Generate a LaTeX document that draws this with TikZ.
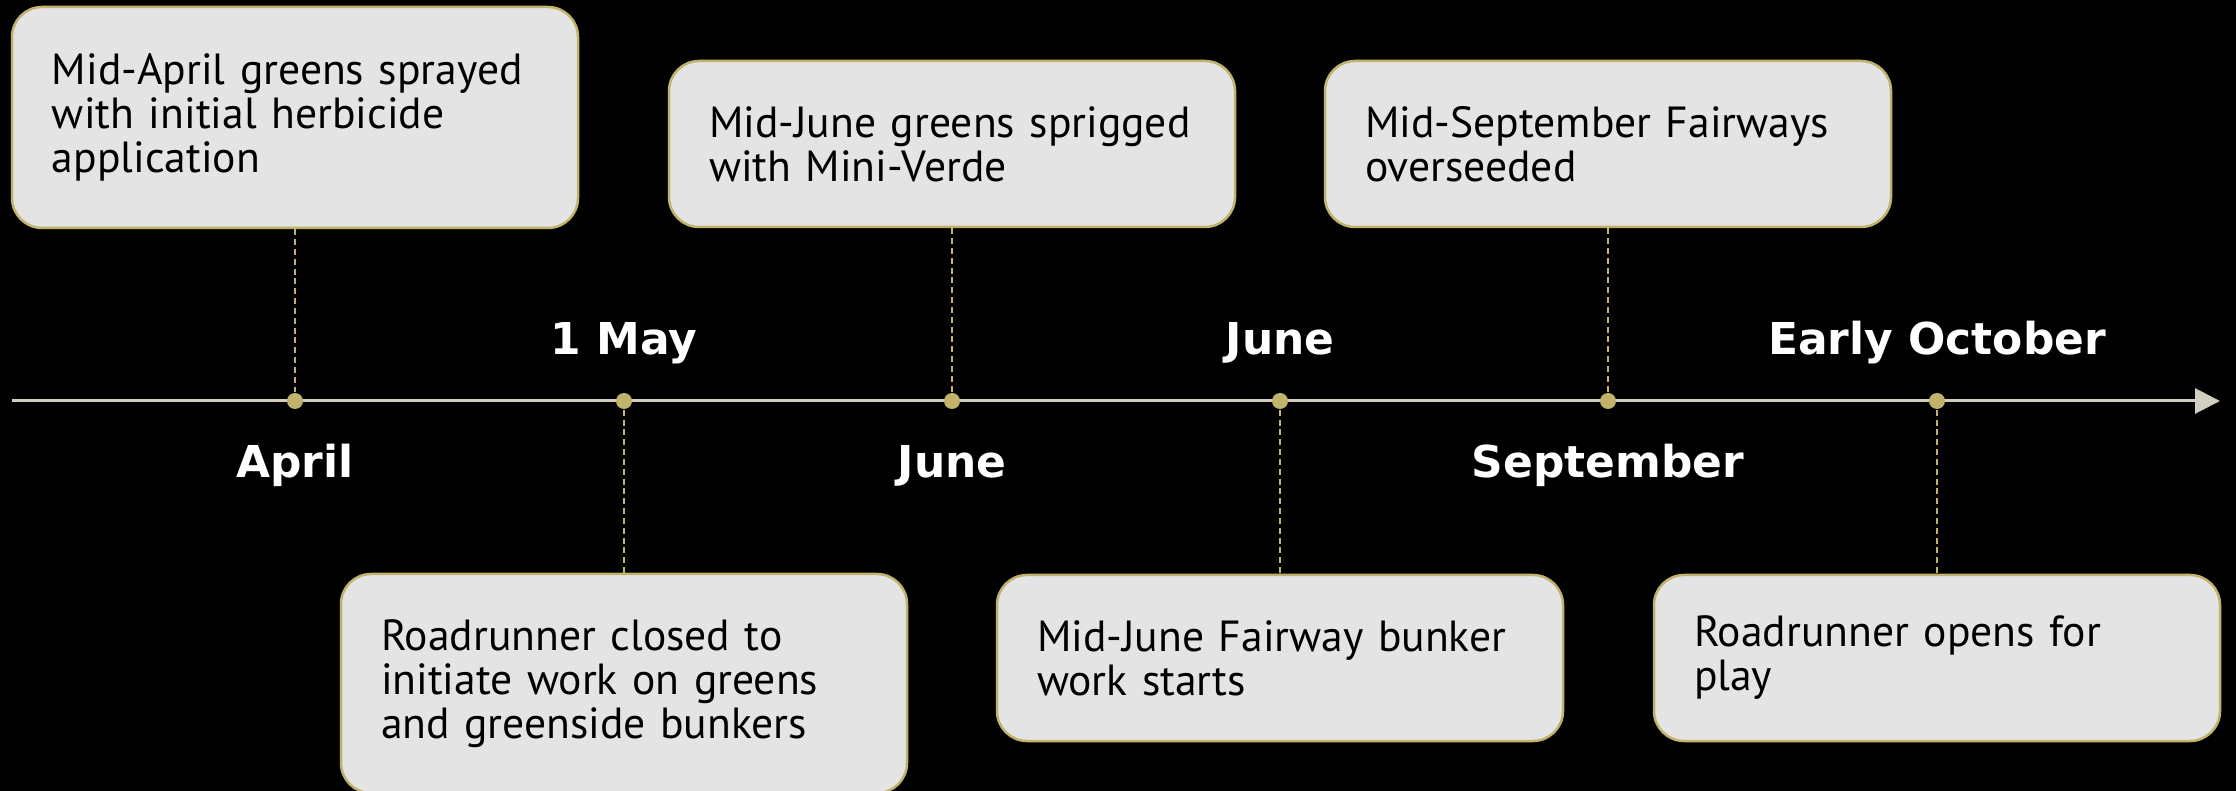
\documentclass[tikz,border=0pt]{standalone}
\usepackage{fontspec}
\setmainfont{PT Sans}
\newfontfamily\labelfont{DejaVu Sans}
\usetikzlibrary{arrows.meta}
\definecolor{gold}{HTML}{C2B36C}
\definecolor{boxgray}{HTML}{E4E4E4}
\definecolor{axisgray}{HTML}{D2CEC0}
\tikzset{
	event/.style={draw=gold, fill=boxgray, line width=0.25mm, rounded corners=0.3cm, text width=4.86cm, inner xsep=0.4cm, align=left, minimum height=#1, font=\fontsize{12.4}{12.5}\selectfont},
	dot/.style={circle, fill=gold, inner sep=0, minimum size=0.16cm},
	link/.style={draw=gold, line width=0.15mm, dash pattern=on 1.7pt off 1.1pt},
	when/.style={text=white, anchor=base, font=\labelfont\bfseries\fontsize{12.5}{14}\selectfont}
}

\begin{document}
\begin{tikzpicture}
		%%%%% START %%%%%
		
		\fill[black] (0, -3.90) rectangle (22.36, 4.01);
		\useasboundingbox (0, -3.90) rectangle (22.36, 4.01);
		
		\coordinate (start) at (0.12, 0);
		\coordinate (end) at (22.20, 0);
		\draw[line width=0.3mm, color=axisgray, -{Triangle[length=0.25cm, width=0.25cm]}] (start) -- (end);
		
		\node[event=2.21cm] (spray) at (2.95, 2.835) {Mid-April greens sprayed\\with initial herbicide\\application};
		\node[event=2.19cm] (closed) at (6.24, -2.825) {Roadrunner closed to\\initiate work on greens\\and greenside bunkers};
		\node[event=1.66cm] (sprig) at (9.52, 2.57) {Mid-June greens sprigged\\with Mini-Verde};
		\node[event=1.66cm] (bunker) at (12.80, -2.57) {Mid-June Fairway bunker\\work starts};
		\node[event=1.66cm] (seed) at (16.08, 2.57) {Mid-September Fairways\\overseeded};
		\node[event=1.66cm] (open) at (19.37, -2.57) {Roadrunner opens for\\play};
		
		\node[dot] (d1) at (2.95, 0) {};
		\node[dot] (d2) at (6.24, 0) {};
		\node[dot] (d3) at (9.52, 0) {};
		\node[dot] (d4) at (12.80, 0) {};
		\node[dot] (d5) at (16.08, 0) {};
		\node[dot] (d6) at (19.37, 0) {};
		
		\draw[link] (spray) -- (d1);
		\draw[link] (d2) -- (closed);
		\draw[link] (sprig) -- (d3);
		\draw[link] (d4) -- (bunker);
		\draw[link] (seed) -- (d5);
		\draw[link] (d6) -- (open);
		
		\node[when] (april) at (2.95, -0.77) {April};
		\node[when] (may) at (6.24, 0.46) {1 May};
		\node[when] (junelow) at (9.52, -0.77) {June};
		\node[when] (junehigh) at (12.80, 0.46) {June};
		\node[when] (sept) at (16.08, -0.77) {September};
		\node[when] (oct) at (19.37, 0.46) {Early October};
		
		%%%%% END %%%%%
	\end{tikzpicture}
\end{document}
